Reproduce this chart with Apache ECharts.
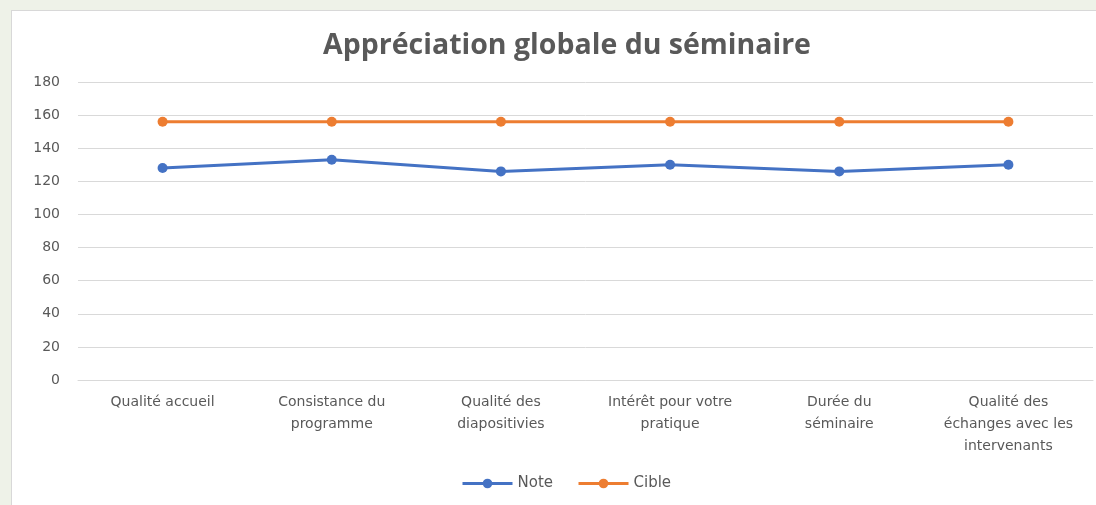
<!DOCTYPE html>
<html><head><meta charset="utf-8">
<script src="https://cdn.jsdelivr.net/npm/echarts@6/dist/echarts.min.js"></script>
<style>
html,body{margin:0;padding:0;width:1096px;height:505px;overflow:hidden;background:#eef2e8;}
#frame{position:absolute;left:11px;top:10px;width:1085px;height:495px;background:#fff;border-left:1px solid #d8d8d8;border-top:1px solid #d8d8d8;}
#c{position:absolute;left:-12px;top:-11px;width:1096px;height:505px;}
</style></head>
<body><div id="frame"><div id="c"></div></div>
<script>
const categories = ["Qualité accueil","Consistance du\nprogramme","Qualité des\ndiapositivies","Intérêt pour votre\npratique","Durée du\nséminaire","Qualité des\néchanges avec les\nintervenants"];
const noteValues = [128, 133, 126, 130, 126, 130];
const cibleValues = [156, 156, 156, 156, 156, 156];
const yTicks = {min:0, max:180, interval:20};
const titleText = "Appréciation globale du séminaire";

const chart = echarts.init(document.getElementById('c'), null, {renderer:'canvas'});
const txt = '#595959';
const lblFont = '"DejaVu Sans",sans-serif';
chart.setOption({
  animation:false,
  backgroundColor:'transparent',
  title:{text:titleText,left:562,textAlign:'center',top:26,
    textStyle:{fontFamily:'"Open Sans",sans-serif',fontSize:28.5,fontWeight:'bold',color:txt}},
  grid:{left:78,right:3,top:82,bottom:125,containLabel:false},
  legend:{bottom:9,left:456,itemWidth:50,itemHeight:12,itemGap:24,
    lineStyle:{width:3},
    textStyle:{fontFamily:lblFont,fontSize:15,color:txt},
    data:['Note','Cible']},
  xAxis:{type:'category',data:categories,boundaryGap:true,
    axisLine:{lineStyle:{color:'#d9d9d9',width:1}},axisTick:{show:false},
    axisLabel:{interval:0,color:txt,fontFamily:lblFont,fontSize:14,lineHeight:22,margin:11}},
  yAxis:{type:'value',min:yTicks.min,max:yTicks.max,interval:yTicks.interval,
    axisLine:{show:false},axisTick:{show:false},
    splitLine:{lineStyle:{color:'#d9d9d9',width:1}},
    axisLabel:{color:txt,fontFamily:lblFont,fontSize:14,margin:18}},
  series:[
    {name:'Note',type:'line',data:noteValues,symbol:'circle',symbolSize:10,
      itemStyle:{color:'#4472C4'},lineStyle:{color:'#4472C4',width:3}},
    {name:'Cible',type:'line',data:cibleValues,symbol:'circle',symbolSize:10,
      itemStyle:{color:'#ED7D31'},lineStyle:{color:'#ED7D31',width:3}}
  ]
});
</script></body></html>
